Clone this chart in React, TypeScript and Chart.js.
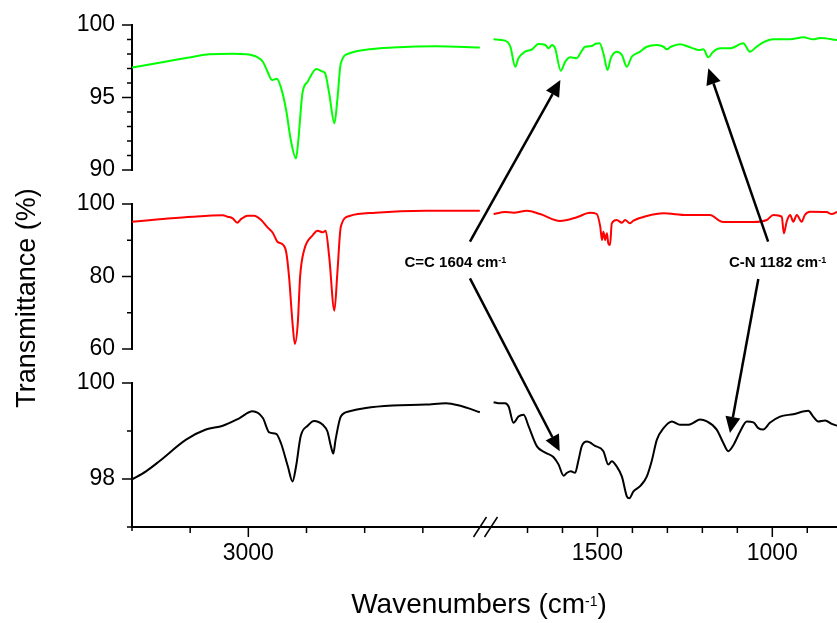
import React, { useEffect, useRef } from 'react';
import { Chart, registerables } from 'chart.js';

Chart.register(...registerables);

const FONT = '"Liberation Sans", Arial, Helvetica, sans-serif';

// [wavenumber (cm-1), transmittance (%)] — high-wavenumber segment (3200–2600)
const GREEN_HIGH: [number, number][] = [
  [3200, 97.06], [3153, 97.4], [3096, 97.8], [3067, 97.98], [3027, 98.02], [3004, 97.98],
  [2984, 97.77], [2975, 97.47], [2967, 96.78], [2959, 96.2], [2951, 96.3], [2944, 95.7],
  [2935, 94.14], [2927, 92.07], [2918, 90.8], [2914, 92.07], [2907, 95.29], [2898, 96.09],
  [2883, 96.97], [2872, 96.78], [2868, 96.67], [2861, 95.29], [2852, 93.22], [2847, 94.83],
  [2841, 97.36], [2826, 98.05], [2792, 98.32], [2752, 98.44], [2677, 98.53], [2602, 98.44],
];
// low-wavenumber segment (1800–815)
const GREEN_LOW: [number, number][] = [
  [1797, 99.01], [1764, 98.92], [1749, 98.5], [1735, 97.12], [1726, 97.7], [1707, 98.16],
  [1687, 98.32], [1669, 98.69], [1649, 98.62], [1640, 98.39], [1630, 98.62], [1621, 98.39],
  [1605, 96.85], [1592, 97.47], [1578, 97.77], [1559, 97.7], [1549, 98.05], [1535, 98.5],
  [1516, 98.55], [1507, 98.69], [1494, 98.74], [1483, 98.05], [1471, 96.9], [1462, 97.7],
  [1445, 98.16], [1430, 97.93], [1416, 97.12], [1402, 97.81], [1378, 98.16], [1359, 98.5],
  [1330, 98.62], [1311, 98.5], [1302, 98.32], [1290, 98.5], [1264, 98.67], [1240, 98.5],
  [1226, 98.39], [1211, 98.28], [1197, 98.32], [1183, 97.77], [1169, 98.16], [1149, 98.39],
  [1121, 98.39], [1083, 98.74], [1064, 98.16], [1045, 98.5], [1026, 98.8], [997, 99.01],
  [949, 99.01], [911, 99.15], [883, 99.01], [864, 99.1], [815, 98.97],
];

const RED_HIGH: [number, number][] = [
  [3200, 95.12], [3153, 95.77], [3096, 96.5], [3044, 96.88], [3036, 96.5], [3027, 96.05],
  [3019, 94.84], [3013, 95.77], [3001, 96.77], [2990, 96.77], [2978, 95.59], [2967, 93.56],
  [2958, 92.08], [2950, 89.6], [2941, 88.88], [2935, 86.84], [2930, 79.94], [2924, 67.09],
  [2920, 61.38], [2915, 67.09], [2911, 79.94], [2904, 87.31], [2889, 91.45], [2881, 92.64],
  [2872, 92.19], [2867, 92.64], [2861, 85.46], [2852, 70.57], [2847, 80.88], [2841, 93.75],
  [2826, 96.69], [2781, 97.6], [2695, 98.15], [2602, 98.15],
];
const RED_LOW: [number, number][] = [
  [1797, 97.24], [1764, 97.79], [1740, 97.6], [1702, 98.15], [1664, 97.24], [1607, 95.31],
  [1559, 96.33], [1521, 97.6], [1502, 97.24], [1492, 93.74], [1487, 90.07], [1483, 92.36],
  [1478, 90.07], [1473, 91.91], [1469, 89.15], [1464, 88.69], [1459, 94.67], [1445, 95.59],
  [1430, 94.84], [1421, 95.59], [1407, 94.67], [1397, 95.39], [1359, 96.69], [1311, 97.43],
  [1245, 96.97], [1178, 96.97], [1145, 95.12], [1111, 95.03], [1054, 95.03], [1016, 95.59],
  [997, 96.97], [973, 96.5], [967, 91.91], [959, 95.12], [949, 96.97], [940, 95.12],
  [930, 96.97], [916, 95.12], [907, 96.97], [892, 97.88], [845, 97.79], [830, 97.24], [815, 97.79],
];

const BLACK_HIGH: [number, number][] = [
  [3200, 97.99], [3176, 98.16], [3153, 98.37], [3107, 98.82], [3073, 99.03], [3044, 99.11],
  [3015, 99.27], [2993, 99.41], [2975, 99.27], [2964, 98.97], [2952, 98.94], [2944, 98.75],
  [2932, 98.26], [2924, 97.95], [2918, 98.26], [2910, 98.89], [2898, 99.11], [2887, 99.21],
  [2872, 99.13], [2864, 98.99], [2858, 98.68], [2854, 98.53], [2850, 98.82], [2841, 99.3],
  [2826, 99.41], [2798, 99.48], [2752, 99.53], [2695, 99.55], [2660, 99.58], [2637, 99.53],
  [2602, 99.39],
];
const BLACK_LOW: [number, number][] = [
  [1797, 99.6], [1783, 99.58], [1764, 99.58], [1754, 99.51], [1740, 99.17], [1726, 99.3],
  [1711, 99.34], [1697, 99.1], [1673, 98.68], [1649, 98.55], [1626, 98.46], [1611, 98.3],
  [1597, 98.07], [1587, 98.13], [1576, 98.16], [1564, 98.13], [1554, 98.4], [1545, 98.68],
  [1530, 98.78], [1507, 98.69], [1483, 98.58], [1469, 98.3], [1459, 98.37], [1445, 98.26],
  [1430, 98.05], [1416, 97.64], [1409, 97.6], [1397, 97.74], [1378, 97.85], [1359, 98.05],
  [1345, 98.37], [1330, 98.82], [1311, 99.06], [1287, 99.2], [1264, 99.13], [1240, 99.13],
  [1226, 99.17], [1207, 99.24], [1187, 99.2], [1159, 99.03], [1140, 98.75], [1126, 98.58],
  [1111, 98.71], [1092, 98.99], [1073, 99.2], [1054, 99.18], [1040, 99.06], [1026, 99.03],
  [1007, 99.17], [978, 99.3], [940, 99.35], [897, 99.42], [883, 99.3], [869, 99.2],
  [849, 99.22], [830, 99.15], [815, 99.11],
];

// Axes
const X_HIGH_RANGE = [2600, 3200];
const X_LOW_RANGE = [815, 1833];
const X_HIGH_TICKS = [3200, 3100, 3000, 2900, 2800, 2700];
const X_LOW_TICKS = [1700, 1600, 1500, 1400, 1300, 1200, 1100, 1000, 900];
const X_LABELED = [3000, 1500, 1000];

const Y_TOP_RANGE = [90, 100];
const Y_TOP_TICKS = [90, 91, 92, 93, 94, 95, 96, 97, 98, 99, 100];
const Y_TOP_LABELED = [90, 95, 100];
const Y_MID_RANGE = [60, 100];
const Y_MID_TICKS = [60, 70, 80, 90, 100];
const Y_MID_LABELED = [60, 80, 100];
const Y_BOT_RANGE = [97, 100];
const Y_BOT_TICKS = [97, 98, 99, 100];
const Y_BOT_LABELED = [98, 100];

const X_TITLE = 'Wavenumbers (cm';
const X_TITLE_SUP = '-1';
const Y_TITLE = 'Transmittance (%)';

// Annotations: label anchor [xAxis, x, yAxis, y(baseline)]
const LABELS = [
  { text: 'C=C 1604 cm', sup: '-1', at: ['xH', 2644, 'yMid', 82.7] },
  { text: 'C-N 1182 cm', sup: '-1', at: ['xL', 985, 'yMid', 82.7] },
];
const ARROWS = [
  { from: ['xH', 2619, 'yMid', 89.6], to: ['xL', 1606, 'yTop', 96.2] },
  { from: ['xH', 2619, 'yMid', 79.5], to: ['xL', 1608, 'yBot', 98.58] },
  { from: ['xL', 1012, 'yMid', 89.6], to: ['xL', 1183, 'yTop', 97.01] },
  { from: ['xL', 1040, 'yMid', 79.3], to: ['xL', 1121, 'yBot', 98.96] },
];

function pt(scales: any, spec: any[]) {
  return [scales[spec[0]].getPixelForValue(spec[1]), scales[spec[2]].getPixelForValue(spec[3])];
}

function drawSup(ctx: any, main: string, sup: string, suffix: string, cx: number, base: number,
  mainFont: string, supFont: string, rise: number) {
  ctx.font = mainFont;
  const w1 = ctx.measureText(main).width;
  const w3 = suffix ? ctx.measureText(suffix).width : 0;
  ctx.font = supFont;
  const w2 = ctx.measureText(sup).width;
  let x = cx - (w1 + w2 + w3) / 2;
  ctx.textAlign = 'left';
  ctx.textBaseline = 'alphabetic';
  ctx.font = mainFont;
  ctx.fillText(main, x, base);
  x += w1;
  ctx.font = supFont;
  ctx.fillText(sup, x, base - rise);
  x += w2;
  if (suffix) {
    ctx.font = mainFont;
    ctx.fillText(suffix, x, base);
  }
}

function drawArrow(ctx: any, x0: number, y0: number, x1: number, y1: number) {
  const a = Math.atan2(y1 - y0, x1 - x0);
  const L = 16, W = 7.5;
  const bx = x1 - L * Math.cos(a), by = y1 - L * Math.sin(a);
  ctx.beginPath();
  ctx.moveTo(x0, y0);
  ctx.lineTo(bx, by);
  ctx.stroke();
  ctx.beginPath();
  ctx.moveTo(x1, y1);
  ctx.lineTo(bx + W * Math.sin(a), by - W * Math.cos(a));
  ctx.lineTo(bx - W * Math.sin(a), by + W * Math.cos(a));
  ctx.closePath();
  ctx.fill();
}

const decorations = {
  id: 'decorations',
  afterDraw(chart: any) {
    const { ctx, scales, chartArea } = chart;
    ctx.save();
    ctx.strokeStyle = '#000';
    ctx.fillStyle = '#000';
    ctx.lineWidth = 1.5;
    // x tick marks
    ['xH', 'xL'].forEach((id) => {
      const sc = scales[id];
      sc.ticks.forEach((t: any) => {
        const px = sc.getPixelForValue(t.value);
        const len = X_LABELED.includes(t.value) ? 10 : t.value === X_HIGH_RANGE[1] ? 4 : 6;
        ctx.beginPath();
        ctx.moveTo(px, sc.top);
        ctx.lineTo(px, sc.top + len);
        ctx.stroke();
      });
    });
    // y tick marks
    ([['yTop', Y_TOP_LABELED], ['yMid', Y_MID_LABELED], ['yBot', Y_BOT_LABELED]] as any[]).forEach(([id, lab]) => {
      const sc = scales[id];
      sc.ticks.forEach((t: any) => {
        const py = sc.getPixelForValue(t.value);
        const len = lab.includes(t.value) ? 10 : 5;
        ctx.beginPath();
        ctx.moveTo(sc.right, py);
        ctx.lineTo(sc.right - len, py);
        ctx.stroke();
      });
    });
    // axis break marks
    const bx = scales.xH.right;
    const by = chartArea.bottom;
    [-1, 10].forEach((dx) => {
      ctx.beginPath();
      ctx.moveTo(bx + dx - 6.5, by + 10);
      ctx.lineTo(bx + dx + 6.5, by - 10);
      ctx.stroke();
    });
    // axis titles
    ctx.save();
    ctx.translate(35, 298);
    ctx.rotate(-Math.PI / 2);
    ctx.font = `27px ${FONT}`;
    ctx.textAlign = 'center';
    ctx.textBaseline = 'alphabetic';
    ctx.fillText(Y_TITLE, 0, 0);
    ctx.restore();
    drawSup(ctx, X_TITLE, X_TITLE_SUP, ')', 479, 613, `28px ${FONT}`, `14px ${FONT}`, 7);
    // annotations
    ctx.lineWidth = 2.5;
    ARROWS.forEach((a) => {
      const [x0, y0] = pt(scales, a.from);
      const [x1, y1] = pt(scales, a.to);
      drawArrow(ctx, x0, y0, x1, y1);
    });
    LABELS.forEach((l) => {
      const [x, y] = pt(scales, l.at);
      drawSup(ctx, l.text, l.sup, '', x, y, `bold 15px ${FONT}`, `bold 9px ${FONT}`, 4);
    });
    ctx.restore();
  },
};

function xScale(range: number[], ticks: number[], weight: number, stackWeight: number) {
  return {
    type: 'linear', axis: 'x', position: 'bottom', stack: 'wn', stackWeight, weight,
    reverse: true, min: range[0], max: range[1],
    afterBuildTicks: (s: any) => { s.ticks = ticks.map((value) => ({ value })); },
    afterFit: (s: any) => { s.height = 96; },
    grid: { display: false, drawTicks: true, tickLength: 10 },
    border: { display: true, color: '#000', width: 2 },
    ticks: {
      autoSkip: false, maxRotation: 0, padding: 3, color: '#000',
      font: { family: FONT, size: 23 },
      callback: (v: number) => (X_LABELED.includes(v) ? String(v) : ''),
    },
  };
}

function yScale(range: number[], ticks: number[], labeled: number[], weight: number, stackWeight: number) {
  return {
    type: 'linear', axis: 'y', position: 'left', stack: 'panels', stackWeight, weight,
    min: range[0], max: range[1],
    afterBuildTicks: (s: any) => { s.ticks = ticks.map((value) => ({ value })); },
    afterFit: (s: any) => { s.width = 132; },
    grid: { display: false, drawTicks: true, tickLength: 10 },
    border: { display: true, color: '#000', width: 2 },
    ticks: {
      autoSkip: false, padding: 7, color: '#000',
      font: { family: FONT, size: 23 },
      callback: (v: number) => (labeled.includes(v) ? String(v) : ''),
    },
  };
}

function gapScale(weight: number, stackWeight: number) {
  return {
    type: 'linear', axis: 'y', position: 'left', stack: 'panels', stackWeight, weight,
    display: true,
    afterFit: (s: any) => { s.width = 132; },
    grid: { display: false, drawTicks: false },
    border: { display: false },
    ticks: { display: false },
  };
}

function line(data: [number, number][], color: string, xAxisID: string, yAxisID: string) {
  return {
    data: data.map(([x, y]) => ({ x, y })),
    borderColor: color,
    backgroundColor: color,
    borderWidth: 2,
    pointRadius: 0,
    fill: false,
    cubicInterpolationMode: 'monotone',
    xAxisID,
    yAxisID,
  };
}

export default function App() {
  const ref = useRef<HTMLCanvasElement>(null);
  useEffect(() => {
    const canvas = ref.current;
    if (!canvas) return;
    const chart = new Chart(canvas, {
      type: 'line',
      data: {
        datasets: [
          line(GREEN_HIGH, '#00ff00', 'xH', 'yTop'),
          line(GREEN_LOW, '#00ff00', 'xL', 'yTop'),
          line(RED_HIGH, '#ff0000', 'xH', 'yMid'),
          line(RED_LOW, '#ff0000', 'xL', 'yMid'),
          line(BLACK_HIGH, '#000000', 'xH', 'yBot'),
          line(BLACK_LOW, '#000000', 'xL', 'yBot'),
        ] as any,
      },
      options: {
        responsive: false,
        animation: false,
        devicePixelRatio: 1,
        layout: { padding: { top: 25, left: 0, right: 0, bottom: 0 } },
        plugins: { legend: { display: false }, tooltip: { enabled: false }, title: { display: false } },
        scales: {
          xH: xScale(X_HIGH_RANGE, X_HIGH_TICKS, 0, 349),
          xL: xScale(X_LOW_RANGE, X_LOW_TICKS, 1, 356),
          yTop: yScale(Y_TOP_RANGE, Y_TOP_TICKS, Y_TOP_LABELED, 5, 145),
          gap1: gapScale(4, 34),
          yMid: yScale(Y_MID_RANGE, Y_MID_TICKS, Y_MID_LABELED, 3, 145),
          gap2: gapScale(2, 34),
          yBot: yScale(Y_BOT_RANGE, Y_BOT_TICKS, Y_BOT_LABELED, 1, 144),
        } as any,
      },
      plugins: [decorations],
    });
    return () => chart.destroy();
  }, []);
  return (
    <div style={{ position: 'fixed', left: 0, top: 0, width: 837, height: 623, background: '#fff' }}>
      <canvas ref={ref} width={837} height={623} style={{ display: 'block', width: 837, height: 623 }} />
    </div>
  );
}
